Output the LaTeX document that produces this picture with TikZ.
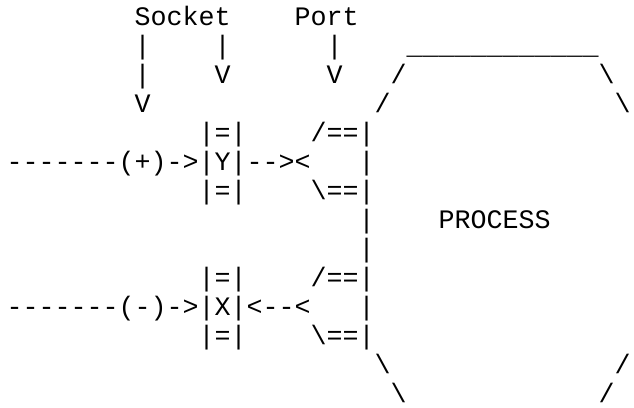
\documentclass[tikz,border=0pt]{standalone}
\usepackage{fontspec}
\setmonofont{Liberation Mono}
\usepackage{tikz}

\begin{document}
\begin{tikzpicture}[x=16pt, y=-29pt,
    ascii/.style={font=\ttfamily\fontsize{26.67pt}{29pt}\selectfont, anchor=base west, inner sep=0pt, outer sep=0pt}]
  \useasboundingbox (-6.7pt,25pt) rectangle (627.3pt,-382pt);
  % labels on top
  \node[ascii] (socket) at (8,0) {Socket};
  \node[ascii] (port) at (18,0) {Port};
  % pointers down
  \node[ascii] (sa1) at (8,1) {|};
  \node[ascii] (sa2) at (8,2) {|};
  \node[ascii] (sa3) at (8,3) {V};
  \node[ascii] (sb1) at (13,1) {|};
  \node[ascii] (sb2) at (13,2) {V};
  \node[ascii] (pa1) at (20,1) {|};
  \node[ascii] (pa2) at (20,2) {V};
  % process outline
  \node[ascii] (ptop) at (25,1) {\textunderscore\textunderscore\textunderscore\textunderscore\textunderscore\textunderscore\textunderscore\textunderscore\textunderscore\textunderscore\textunderscore\textunderscore};
  \node[ascii] (nw1) at (24,2) {/};
  \node[ascii] (nw2) at (23,3) {/};
  \node[ascii] (ne1) at (37,2) {\textbackslash};
  \node[ascii] (ne2) at (38,3) {\textbackslash};
  \node[ascii] (pw7) at (22,7) {|};
  \node[ascii] (pw8) at (22,8) {|};
  \node[ascii] (sw1) at (23,12) {\textbackslash};
  \node[ascii] (sw2) at (24,13) {\textbackslash};
  \node[ascii] (se1) at (38,12) {/};
  \node[ascii] (se2) at (37,13) {/};
  \node[ascii] (proc) at (27,7) {PROCESS};
  % plus line
  \node[ascii] (ytop) at (12,4) {|=|};
  \node[ascii] (yin) at (0,5) {-------(+)->|Y|--><};
  \node[ascii] (ybot) at (12,6) {|=|};
  \node[ascii] (yp1) at (19,4) {/==|};
  \node[ascii] (yp2) at (22,5) {|};
  \node[ascii] (yp3) at (19,6) {\textbackslash==|};
  % minus line
  \node[ascii] (xtop) at (12,9) {|=|};
  \node[ascii] (xin) at (0,10) {-------(-)->|X|<--<};
  \node[ascii] (xbot) at (12,11) {|=|};
  \node[ascii] (xp1) at (19,9) {/==|};
  \node[ascii] (xp2) at (22,10) {|};
  \node[ascii] (xp3) at (19,11) {\textbackslash==|};
\end{tikzpicture}
\end{document}
